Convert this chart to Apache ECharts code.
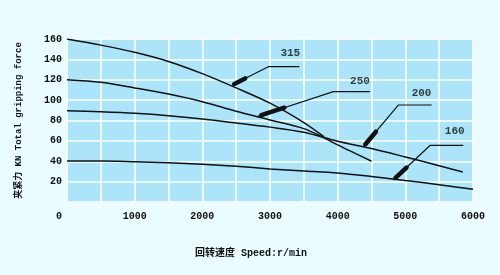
<!DOCTYPE html>
<html>
<head>
<meta charset="utf-8">
<script src="https://cdn.jsdelivr.net/npm/echarts@6/dist/echarts.min.js"></script>
<style>
html, body { margin: 0; padding: 0; background: #eafcff; }
#chart { width: 500px; height: 275px; }
</style>
</head>
<body>
<div id="chart"></div>
<script>
// 曲线数据 (speed r/min, force KN)
var speed315 = [0, 500, 1000, 1500, 2000, 2500, 3000, 3500, 3800];
var force315 = [160, 154, 147, 138, 126, 112, 97, 78, 64];

var speed250 = [0, 500, 1000, 1500, 2000, 2500, 3000, 3500, 3800, 4000, 4500];
var force250 = [120, 117.5, 112, 106, 98.5, 89, 80.5, 72, 63, 56, 40];

var speed200 = [0, 500, 1000, 1500, 2000, 2500, 3000, 3500, 4000, 4500, 5000, 5500, 5850];
var force200 = [89.6, 88.5, 87, 84.7, 81.5, 77.5, 73.5, 68.5, 59.6, 52.5, 44.2, 35.6, 29.5];

var speed160 = [0, 500, 1000, 1500, 2000, 2500, 3000, 3500, 4000, 4500, 5000, 5500, 6000];
var force160 = [40.2, 40.2, 39.5, 38.6, 37, 35, 32.5, 30.5, 28.5, 25, 21, 17, 12.5];

var curveNames = ['315', '250', '200', '160'];

// 引出线 (pointer -> elbow -> end), 数据坐标
var leader315 = [[2440, 114.8], [2975, 132.8], [3433, 132.8]];
var leader250 = [[2803, 83.7], [3936, 108.3], [4478, 108.3]];
var leader200 = [[4379, 54.3], [4896, 95.2], [5389, 95.2]];
var leader160 = [[4822, 21.6], [5364, 55.5], [5856, 55.5]];

// 标注文字位置
var labelX = [3300, 4330, 5240, 5730];
var labelY = [146, 119, 107, 69];

var xTicks = [0, 1000, 2000, 3000, 4000, 5000, 6000];
var yTicks = [0, 20, 40, 60, 80, 100, 120, 140, 160];

function pairs(xs, ys) {
	var out = [];
	for (var i = 0; i < xs.length; i++) {
		out.push([xs[i], ys[i]]);
	}
	return out;
}

// 箭头: 引出线斜段靠近曲线的一小段
function arrowPart(leader) {
	var a = leader[0], b = leader[1];
	var f0 = 0.06, f1 = 0.36;
	return [
		[a[0] + (b[0] - a[0]) * f0, a[1] + (b[1] - a[1]) * f0],
		[a[0] + (b[0] - a[0]) * f1, a[1] + (b[1] - a[1]) * f1]
	];
}

var monoFont = '"Liberation Mono", "DejaVu Sans Mono", "Noto Sans CJK SC", monospace';

var series = [];
var curves = [
	pairs(speed315, force315),
	pairs(speed250, force250),
	pairs(speed200, force200),
	pairs(speed160, force160)
];
for (var i = 0; i < curves.length; i++) {
	series.push({
		name: curveNames[i],
		type: 'line',
		data: curves[i],
		smooth: 0.3,
		symbol: 'none',
		lineStyle: { color: '#111', width: 1.5 },
		z: 3
	});
}

var leaders = [leader315, leader250, leader200, leader160];
for (var j = 0; j < leaders.length; j++) {
	series.push({
		type: 'line',
		data: leaders[j],
		symbol: 'none',
		lineStyle: { color: '#111', width: 1.2 },
		z: 4
	});
	series.push({
		type: 'line',
		data: arrowPart(leaders[j]),
		symbol: 'none',
		lineStyle: { color: '#111', width: 4.5, cap: 'round' },
		z: 5
	});
}

series.push({
	type: 'scatter',
	data: pairs(labelX, labelY),
	symbolSize: 0,
	label: {
		show: true,
		position: 'inside',
		formatter: function (p) { return curveNames[p.dataIndex]; },
		color: '#111',
		fontSize: 11,
		fontWeight: 'bold',
		fontFamily: monoFont
	},
	z: 6
});

var option = {
	backgroundColor: '#eafcff',
	animation: false,
	grid: {
		left: 67,
		right: 27,
		top: 39,
		bottom: 73,
		show: true,
		backgroundColor: '#ace5fa',
		borderWidth: 0
	},
	xAxis: {
		type: 'value',
		min: 0,
		max: 6000,
		interval: 500,
		name: '回转速度 Speed:r/min',
		nameLocation: 'middle',
		nameGap: 46,
		nameTextStyle: {
			color: '#111',
			fontSize: 10,
			fontWeight: 'bold',
			fontFamily: monoFont,
			padding: [0, 38, 0, 0]
		},
		axisLine: { show: false },
		axisTick: { show: false },
		splitLine: { show: true, lineStyle: { color: '#ffffff', width: 1.5 } },
		axisLabel: {
			margin: 9,
			color: '#111',
			fontSize: 10,
			fontWeight: 'bold',
			fontFamily: monoFont,
			formatter: function (v) {
				if (xTicks.indexOf(v) < 0) return '';
				if (v === 0) return '{o|0}';
				return String(v);
			},
			rich: {
				o: { padding: [0, 16, 0, 0], fontSize: 10, fontWeight: 'bold', fontFamily: monoFont, color: '#111' }
			}
		}
	},
	yAxis: {
		type: 'value',
		min: 0,
		max: 160,
		interval: 20,
		name: '夹紧力 KN Total gripping force',
		nameLocation: 'middle',
		nameGap: 44,
		nameTextStyle: {
			color: '#111',
			fontSize: 9,
			fontWeight: 'bold',
			fontFamily: monoFont
		},
		axisLine: { show: false },
		axisTick: { show: false },
		splitLine: { show: true, lineStyle: { color: '#ffffff', width: 1.5 } },
		axisLabel: {
			showMinLabel: false,
			margin: 5,
			color: '#111',
			fontSize: 10,
			fontWeight: 'bold',
			fontFamily: monoFont,
			formatter: function (v) {
				return yTicks.indexOf(v) >= 0 ? String(v) : '';
			}
		}
	},
	series: series
};

var myChart = echarts.init(document.getElementById('chart'));
myChart.setOption(option);
window.onresize = myChart.resize;
</script>
</body>
</html>
